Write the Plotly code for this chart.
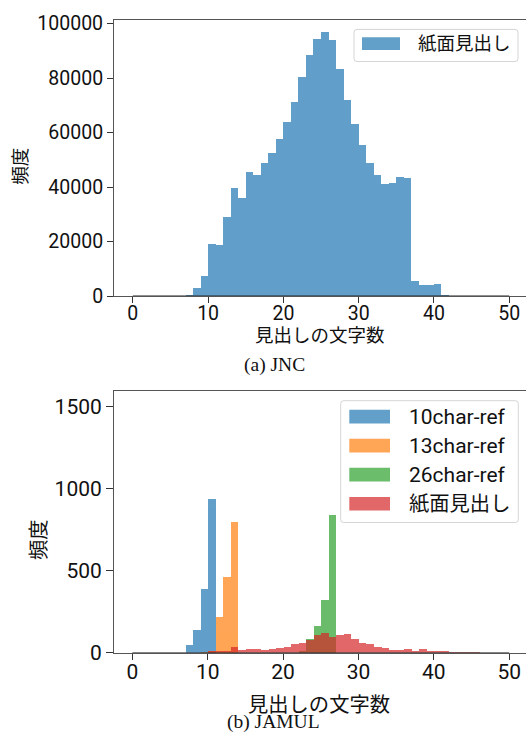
import plotly.graph_objects as go

# ---------------- data ----------------
HIST_RANGE = [0, 50]

jnc_bins = list(range(7, 42))
jnc_counts = [240, 2860, 7510, 19070, 18710, 28970, 39570, 36000, 45420, 44460,
              48870, 52450, 57810, 63770, 71280, 80460, 88450, 94530, 96790, 94170,
              83440, 72120, 63180, 55430, 48870, 44460, 41120, 41360, 43870, 43510,
              5600, 4170, 3930, 4410, 240]

ref10_bins = [7, 8, 9, 10]
ref10_counts = [46, 139, 392, 935]

ref13_bins = [9, 10, 11, 12, 13]
ref13_counts = [3, 6, 220, 465, 800]

ref26_bins = [22, 23, 24, 25, 26]
ref26_counts = [10, 82, 166, 323, 840]

jamul_bins = list(range(10, 46))
jamul_counts = [8, 10, 14, 34, 18, 26, 26, 20, 22, 32,
                34, 53, 61, 79, 111, 123, 99, 109, 113, 87,
                61, 57, 34, 30, 20, 18, 22, 14, 22, 8,
                14, 6, 4, 4, 2, 2]

x_ticks = [0, 10, 20, 30, 40, 50]
top_y_ticks = [0, 20000, 40000, 60000, 80000, 100000]
bot_y_ticks = [0, 500, 1000, 1500]

series_names = ["10char-ref", "13char-ref", "26char-ref", "紙面見出し"]
colors = ["rgb(31,119,180)", "rgb(255,127,14)", "rgb(44,160,44)", "rgb(214,39,40)"]

x_title = "見出しの文字数"
y_title = "頻度"
cap_a = "(a) JNC"
cap_b = "(b) JAMUL"

# ---------------- layout helpers ----------------
W, H = 526, 746
FONT = "Roboto, Noto Sans CJK JP"
CJK = "Noto Sans CJK JP"
SERIF = "Liberation Serif"


def px(x):
    return x / W


def py(y):
    return 1 - y / H


def rgba(c, a):
    return c.replace("rgb(", "rgba(").replace(")", f",{a})")


def rrect(x0, y0, x1, y1, r=3):
    X0, X1 = px(x0), px(x1)
    Y0, Y1 = py(y0), py(y1)
    rx, ry = r / W, r / H
    return (f"M{X0+rx},{Y0} L{X1-rx},{Y0} Q{X1},{Y0} {X1},{Y0-ry} "
            f"L{X1},{Y1+ry} Q{X1},{Y1} {X1-rx},{Y1} L{X0+rx},{Y1} "
            f"Q{X0},{Y1} {X0},{Y1+ry} L{X0},{Y0-ry} Q{X0},{Y0} {X0+rx},{Y0} Z")


fig = go.Figure()

# top histogram
fig.add_trace(go.Bar(x=[b + 0.5 for b in jnc_bins], y=jnc_counts, width=1,
                     marker=dict(color=colors[0], line=dict(width=0)), opacity=0.7,
                     name=series_names[3], xaxis="x", yaxis="y", showlegend=False))

# bottom histograms
for bins, counts, name, col in [(ref10_bins, ref10_counts, series_names[0], colors[0]),
                                (ref13_bins, ref13_counts, series_names[1], colors[1]),
                                (ref26_bins, ref26_counts, series_names[2], colors[2]),
                                (jamul_bins, jamul_counts, series_names[3], colors[3])]:
    fig.add_trace(go.Bar(x=[b + 0.5 for b in bins], y=counts, width=1,
                         marker=dict(color=col, line=dict(width=0)), opacity=0.7,
                         name=name, xaxis="x2", yaxis="y2", showlegend=False))

# baseline under the histogram range (zero-height bins)
for xa, ya in [("x", "y"), ("x2", "y2")]:
    fig.add_trace(go.Scatter(x=HIST_RANGE, y=[0, 0], mode="lines",
                             line=dict(color="#222", width=1.2),
                             xaxis=xa, yaxis=ya, showlegend=False, hoverinfo="skip"))

spine = "#555"
XR = [-2.5, 52.23]

common_x = dict(range=XR, tickvals=x_ticks, showline=True, linecolor=spine, linewidth=1,
                mirror=True, ticks="outside", tickcolor="#333", showgrid=False,
                zeroline=False, ticklabelstandoff=-7)
common_y = dict(showline=True, linecolor=spine, linewidth=1, ticks="outside",
                tickcolor="#333", showgrid=False, zeroline=False, tickformat="d")

fig.update_layout(
    width=W, height=H, margin=dict(l=0, r=0, t=0, b=0),
    paper_bgcolor="white", plot_bgcolor="white",
    barmode="overlay", bargap=0,
    font=dict(family=FONT, color="#111"),
    xaxis=dict(**common_x, domain=[px(114), 1], anchor="y", ticklen=6,
               tickfont=dict(size=19.5, family=FONT)),
    yaxis=dict(**common_y, domain=[py(296.7), py(13.3)], anchor="x",
               range=[0, 101350], tickvals=top_y_ticks, ticklen=6,
               tickfont=dict(size=19.5, family=FONT)),
    xaxis2=dict(**common_x, domain=[px(113.5), 1], anchor="y2", ticklen=6.5,
                tickfont=dict(size=21, family=FONT)),
    yaxis2=dict(**common_y, domain=[py(662.7), py(394)], anchor="x2",
                range=[0, 1595], tickvals=bot_y_ticks, ticklen=6.5,
                tickfont=dict(size=21, family=FONT)),
)

ann = []
shapes = []

# axis titles
ann.append(dict(text=x_title, x=px(320), y=py(336), xref="paper", yref="paper",
                showarrow=False, font=dict(size=18.5, family=CJK), xanchor="center", yanchor="middle"))
ann.append(dict(text=x_title, x=px(319), y=py(714), xref="paper", yref="paper",
                showarrow=False, font=dict(size=20.3, family=CJK), xanchor="center", yanchor="middle"))
ann.append(dict(text=y_title, x=px(19), y=py(163), xref="paper", yref="paper", textangle=-90,
                showarrow=False, font=dict(size=18.5, family=CJK), xanchor="center", yanchor="middle"))
ann.append(dict(text=y_title, x=px(37), y=py(547), xref="paper", yref="paper", textangle=-90,
                showarrow=False, font=dict(size=20.3, family=CJK), xanchor="center", yanchor="middle"))

# captions
ann.append(dict(text=cap_a, x=px(274), y=py(367), xref="paper", yref="paper",
                showarrow=False, font=dict(size=19.5, family=SERIF, color="#111"),
                xanchor="center", yanchor="middle"))
ann.append(dict(text=cap_b, x=px(273), y=py(733.5), xref="paper", yref="paper",
                showarrow=False, font=dict(size=19.5, family=SERIF, color="#111"),
                xanchor="center", yanchor="middle"))

# legend (top)
shapes.append(dict(type="path", path=rrect(354, 23, 518, 56), xref="paper", yref="paper",
                   fillcolor="rgba(255,255,255,0.8)", line=dict(color="#d5d5d5", width=1)))
shapes.append(dict(type="rect", x0=px(362), x1=px(400), y0=py(44), y1=py(31), xref="paper",
                   yref="paper", fillcolor=rgba(colors[0], 0.7), line=dict(width=0)))
ann.append(dict(text=series_names[3], x=px(416), y=py(37.5), xref="paper", yref="paper",
                showarrow=False, font=dict(size=18.5, family=FONT), xanchor="left", yanchor="middle"))

# legend (bottom)
shapes.append(dict(type="path", path=rrect(340.7, 404, 518.3, 529), xref="paper", yref="paper",
                   fillcolor="rgba(255,255,255,0.8)", line=dict(color="#d5d5d5", width=1)))
for i, (name, col) in enumerate(zip(series_names, colors)):
    cy = 420.3 + i * 29.8
    shapes.append(dict(type="rect", x0=px(349.3), x1=px(390), y0=py(cy + 7), y1=py(cy - 7),
                       xref="paper", yref="paper", fillcolor=rgba(col, 0.7), line=dict(width=0)))
    ann.append(dict(text=name, x=px(407.3), y=py(cy), xref="paper", yref="paper",
                    showarrow=False, font=dict(size=20.3 if i == 3 else 21, family=FONT),
                    xanchor="left", yanchor="middle"))

fig.update_layout(annotations=ann, shapes=shapes)

fig.write_html("out.html", config={"displayModeBar": False, "responsive": False},
               post_script="document.body.style.margin='0px';")
